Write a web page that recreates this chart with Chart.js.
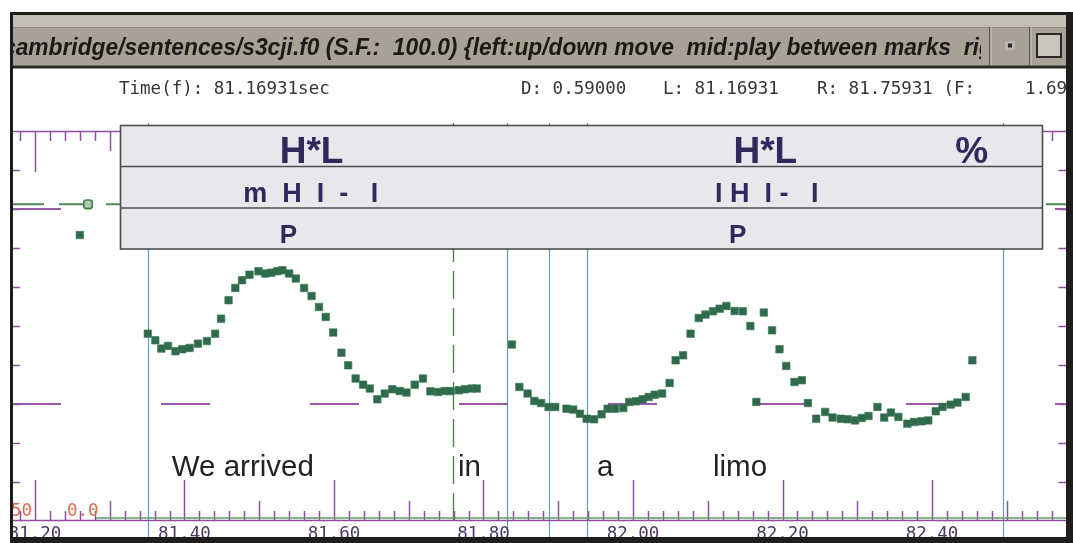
<!DOCTYPE html>
<html>
<head>
<meta charset="utf-8">
<script src="https://cdn.jsdelivr.net/npm/chart.js@4.4.1/dist/chart.umd.min.js"></script>
<style>
  html, body { margin: 0; padding: 0; background: #fff; overflow: hidden; }
  canvas { display: block; }
</style>
</head>
<body>
<canvas id="c" width="1073" height="543"></canvas>
<script>
// ---- s3cji.f0 : pitch track (s) / (Hz) ----
const f0Times = [
  81.260, 81.351, 81.361, 81.369, 81.378, 81.388, 81.397, 81.407, 81.418, 81.430,
  81.441, 81.449, 81.459, 81.468, 81.477, 81.487, 81.499, 81.508, 81.516, 81.524,
  81.531, 81.540, 81.549, 81.560, 81.570, 81.580, 81.589, 81.599, 81.610, 81.619,
  81.629, 81.639, 81.648, 81.658, 81.668, 81.678, 81.688, 81.697, 81.708, 81.719,
  81.729, 81.739, 81.748, 81.756, 81.767, 81.775, 81.784, 81.791, 81.838, 81.848,
  81.859, 81.868, 81.877, 81.887, 81.896, 81.911, 81.920, 81.929, 81.938, 81.948,
  81.958, 81.966, 81.976, 81.987, 81.995, 82.004, 82.013, 82.021, 82.029, 82.039,
  82.049, 82.057, 82.067, 82.077, 82.088, 82.097, 82.107, 82.116, 82.125, 82.136,
  82.147, 82.157, 82.165, 82.175, 82.186, 82.196, 82.205, 82.216, 82.226, 82.234,
  82.245, 82.257, 82.267, 82.278, 82.287, 82.297, 82.306, 82.315, 82.327, 82.336,
  82.345, 82.355, 82.367, 82.376, 82.386, 82.395, 82.405, 82.414, 82.425, 82.434,
  82.445, 82.454
];
const f0Values = [
  233.3, 170.1, 165.8, 160.5, 162.2, 158.8, 160.1, 160.9, 163.7, 165.4,
  170.1, 179.7, 191.5, 199.4, 204.3, 207.9, 210.1, 208.6, 209.2, 210.1,
  210.7, 208.6, 205.4, 199.4, 194.2, 187.2, 180.8, 170.8, 157.9, 149.8,
  141.3, 137.4, 134.9, 128.0, 131.7, 134.4, 133.3, 132.3, 137.4, 141.3,
  133.1, 132.7, 133.3, 133.3, 133.8, 134.4, 134.9, 134.9, 163.1, 135.9,
  131.7, 126.9, 125.6, 123.1, 123.1, 122.0, 121.4, 118.8, 115.6, 115.2,
  118.4, 122.0, 122.0, 122.4, 126.3, 126.7, 128.0, 129.5, 131.0, 131.7,
  138.5, 153.0, 156.2, 170.1, 180.1, 182.3, 184.4, 186.1, 187.8, 184.6,
  184.4, 175.0, 126.3, 183.6, 172.2, 160.1, 149.4, 139.1, 140.2, 125.6,
  115.6, 119.9, 116.3, 115.6, 115.2, 114.5, 116.0, 117.3, 123.1, 116.3,
  119.5, 116.7, 112.4, 113.5, 113.9, 114.5, 120.3, 123.1, 124.6, 125.9,
  129.5, 153.0
];

// probability of voicing trace (bottom strip)
const voicingTimes = [81.282, 82.580];
const voicingProb = [0.0, 0.0];

// view, markers and reference levels
const viewStart = 81.16931;
const viewEnd = 82.57975;
const markLeft = 81.16931;
const markRight = 81.75931;
const refLevels = [125, 250];
const cursorLevel = 253;
const cursorTime = 81.271;
const levelTicks = [75, 100, 125, 150, 175, 200, 225, 250, 275];
const f0Min = 50, f0Max = 300;

// segment boundaries (blue) and label tiers
const boundaryTimes = [81.351, 81.831, 81.887, 81.938, 82.495];
const toneTimes = [81.570, 82.177, 82.453];
const toneLabels = ['H*L', 'H*L', '%'];
const breakTimes = [81.569, 82.179];
const breakLabels = ['m  H  I  -   I', 'I H  I -   I'];
const miscTimes = [81.539, 82.140];
const miscLabels = ['P', 'P'];
const wordTimes = [81.383, 81.766, 81.952, 82.107];
const wordLabels = ['We arrived', 'in', 'a', 'limo'];

// time ruler labels
const tickLabels = ['81.20', '81.40', '81.60', '81.80', '82.00', '82.20', '82.40'];

// window texts
const titleText = 'cambridge/sentences/s3cji.f0 (S.F.:  100.0) {left:up/down move  mid:play between marks  right:menu}';
const titleFitPart = 'cambridge/sentences/s3cji.f0 (S.F.:  100.0) {left:up/down move  mid:play between marks';
const infoTexts = ['Time(f): 81.16931sec', 'D: 0.59000', 'L: 81.16931', 'R: 81.75931 (F:', '1.69'];
const infoX = [119, 521, 663, 817, 1025];

const W = 1073, H = 543;
const MONO = '17.5px "DejaVu Sans Mono", monospace';
const RULER = '#8e4c9e';

function seg(ctx, x1, y1, x2, y2) {
  ctx.beginPath(); ctx.moveTo(x1, y1); ctx.lineTo(x2, y2); ctx.stroke();
}

const panelPlugin = {
  id: 'xwavesPanel',
  beforeDraw(chart) {
    const ctx = chart.ctx;
    ctx.save();
    ctx.fillStyle = '#ffffff';
    ctx.fillRect(0, 0, W, H);
    ctx.restore();
  },
  beforeDatasetsDraw(chart) {
    const { ctx, chartArea: a, scales: { x, y } } = chart;
    ctx.save();
    ctx.beginPath(); ctx.rect(13, 69, 1053, 474); ctx.clip();

    // segment boundaries
    ctx.strokeStyle = '#5a9cd6'; ctx.lineWidth = 1.2;
    boundaryTimes.forEach(t => {
      const px = Math.round(x.getPixelForValue(t)) + 0.5;
      seg(ctx, px, 123, px, H);
    });

    // right marker, dashed
    ctx.strokeStyle = '#4f8449'; ctx.lineWidth = 1.4;
    ctx.setLineDash([28, 9]);
    const rx = Math.round(x.getPixelForValue(markRight)) + 0.5;
    seg(ctx, rx, 123, rx, a.bottom);
    ctx.setLineDash([]);

    // level ticks on both sides
    ctx.strokeStyle = RULER; ctx.lineWidth = 1.5;
    levelTicks.forEach(v => {
      const py = Math.round(y.getPixelForValue(v)) + 0.5;
      seg(ctx, a.left, py, a.left + 8, py);
      seg(ctx, a.right - 8, py, a.right, py);
    });

    // time rulers, top (ticks down) and bottom (ticks up)
    ctx.lineWidth = 1.5;
    seg(ctx, a.left, a.top + 0.5, a.right, a.top + 0.5);
    seg(ctx, a.left, a.bottom - 0.5, a.right, a.bottom - 0.5);
    for (let h = 8118; h <= 8258; h += 2) {
      const px = Math.round(x.getPixelForValue(h / 100)) + 0.5;
      const len = h % 20 === 0 ? 41 : (h % 10 === 0 ? 20 : 10);
      seg(ctx, px, a.top, px, a.top + len);
      seg(ctx, px, a.bottom, px, a.bottom - len);
    }
    ctx.restore();
  },
  afterDatasetsDraw(chart) {
    const { ctx, scales: { x } } = chart;
    ctx.save();

    // label tiers
    const bx = 120, bw = 922, rows = [125, 166.5, 208, 248.5];
    ctx.fillStyle = '#e9e7eb';
    ctx.fillRect(bx, rows[0], bw, rows[3] - rows[0]);
    ctx.strokeStyle = '#4e4c50'; ctx.lineWidth = 1.6;
    ctx.strokeRect(bx + 0.5, rows[0] + 0.5, bw, rows[3] - rows[0]);
    seg(ctx, bx, rows[1], bx + bw, rows[1]);
    seg(ctx, bx, rows[2], bx + bw, rows[2]);

    ctx.fillStyle = '#2e2a5e';
    ctx.textAlign = 'center'; ctx.textBaseline = 'alphabetic';
    ctx.font = 'bold 37px "Liberation Sans", Arial, sans-serif';
    toneTimes.forEach((t, i) => ctx.fillText(toneLabels[i], x.getPixelForValue(t), 163));
    ctx.font = 'bold 27px "Liberation Sans", Arial, sans-serif';
    breakTimes.forEach((t, i) => ctx.fillText(breakLabels[i], x.getPixelForValue(t), 202));
    ctx.font = 'bold 26px "Liberation Sans", Arial, sans-serif';
    miscTimes.forEach((t, i) => ctx.fillText(miscLabels[i], x.getPixelForValue(t), 243));

    // words
    ctx.fillStyle = '#222222';
    ctx.textAlign = 'left';
    ctx.font = '29.5px "Liberation Sans", Arial, sans-serif';
    wordTimes.forEach((t, i) => ctx.fillText(wordLabels[i], x.getPixelForValue(t), 476));
    ctx.restore();
  },
  afterDraw(chart) {
    const { ctx, chartArea: a, scales: { x } } = chart;
    ctx.save();

    // ruler labels and scale minima
    ctx.save();
    ctx.beginPath(); ctx.rect(13, 69, 1053, 468); ctx.clip();
    ctx.font = MONO; ctx.textBaseline = 'top'; ctx.textAlign = 'center';
    ctx.fillStyle = '#4a3864';
    tickLabels.forEach(s => ctx.fillText(s, x.getPixelForValue(Number(s)), a.bottom + 5));
    ctx.textAlign = 'left'; ctx.textBaseline = 'alphabetic';
    ctx.fillStyle = '#dc6c4c';
    ctx.fillText(String(f0Min), 11, 516);
    ctx.fillText('0.0', 67, 516);
    ctx.restore();

    // info line
    ctx.font = MONO; ctx.fillStyle = '#363636'; ctx.textAlign = 'left';
    ctx.save();
    ctx.beginPath(); ctx.rect(13, 69, 1053, 40); ctx.clip();
    infoTexts.forEach((s, i) => ctx.fillText(s, infoX[i], 94));
    ctx.restore();

    // title bar
    ctx.fillStyle = '#c3bfb5'; ctx.fillRect(13, 15, 1053, 12);
    ctx.fillStyle = '#a7a295'; ctx.fillRect(13, 27, 1053, 39);
    ctx.fillStyle = '#8f8a7e'; ctx.fillRect(13, 27, 1053, 1);
    ctx.fillStyle = '#2a2a2a'; ctx.fillRect(13, 65.5, 1053, 3);

    ctx.save();
    ctx.beginPath(); ctx.rect(13, 15, 968, 50); ctx.clip();
    ctx.font = 'italic bold 23px "Liberation Sans", Arial, sans-serif';
    const sx = (951 - 3) / ctx.measureText(titleFitPart).width;
    ctx.translate(3, 55); ctx.scale(sx, 1);
    ctx.fillStyle = '#1c1a17';
    ctx.fillText(titleText, 0, 0);
    ctx.restore();

    // title bar buttons
    ctx.fillStyle = '#5a5650'; ctx.fillRect(989, 27, 1.5, 38);
    ctx.fillStyle = '#d2cec4'; ctx.fillRect(990.5, 27, 1, 38);
    ctx.fillStyle = '#5a5650'; ctx.fillRect(1029, 27, 1.5, 38);
    ctx.fillStyle = '#d2cec4'; ctx.fillRect(1030.5, 27, 1, 38);
    ctx.fillStyle = '#b9b5aa'; ctx.fillRect(1005, 41, 10, 9);
    ctx.fillStyle = '#2a2826'; ctx.fillRect(1008, 43.5, 4, 4);
    ctx.fillStyle = '#c9c5bb'; ctx.fillRect(1036, 33, 26, 25);
    ctx.strokeStyle = '#2a2826'; ctx.lineWidth = 2;
    ctx.strokeRect(1037, 34, 24, 23);

    // window frame
    ctx.fillStyle = '#1e1d1c';
    ctx.fillRect(10, 12, 3, 531);
    ctx.fillRect(10, 12, 1063, 3);
    ctx.fillRect(1066, 12, 7, 531);
    ctx.fillRect(10, 537, 1063, 6);
    ctx.restore();
  }
};

const lineSet = (label, level, color, dash, width) => ({
  label,
  data: [{ x: viewStart, y: level }, { x: viewEnd, y: level }],
  showLine: true, borderColor: color, borderWidth: width, borderDash: dash,
  pointRadius: 0, fill: false
});

new Chart(document.getElementById('c'), {
  type: 'scatter',
  data: {
    datasets: [
      {
        label: 'F0',
        data: f0Times.map((t, i) => ({ x: t, y: f0Values[i] })),
        showLine: false,
        pointStyle: 'rect',
        pointRadius: 5.3,
        pointBackgroundColor: '#2f6b4b',
        pointBorderColor: '#3b7856',
        pointBorderWidth: 0.6
      },
      {
        label: 'cursor',
        data: [{ x: cursorTime, y: cursorLevel }],
        showLine: false,
        pointStyle: 'rectRounded',
        pointRadius: 5,
        pointBackgroundColor: '#a9cdb0',
        pointBorderColor: '#3f7f4e',
        pointBorderWidth: 1.6
      },
      lineSet('cursor level', cursorLevel, '#4e8a50', [32, 15], 2),
      lineSet('ref ' + refLevels[1], refLevels[1], '#9a58a9', [49, 100], 2),
      lineSet('ref ' + refLevels[0], refLevels[0], '#9a58a9', [49, 100], 2),
      {
        label: 'voicing',
        yAxisID: 'yv',
        data: voicingTimes.map((t, i) => ({ x: t, y: voicingProb[i] })),
        showLine: true, borderColor: '#5f9d62', borderWidth: 1.5, pointRadius: 0
      }
    ]
  },
  options: {
    responsive: false,
    animation: false,
    devicePixelRatio: 1,
    events: [],
    layout: { padding: { left: 12, right: 6, top: 131, bottom: 22 } },
    elements: { line: { tension: 0 } },
    scales: {
      x: { type: 'linear', min: viewStart, max: viewEnd, display: false },
      y: { type: 'linear', min: f0Min, max: f0Max, display: false },
      yv: { type: 'linear', min: -0.008, max: 1, display: false }
    },
    plugins: { legend: { display: false }, tooltip: { enabled: false } }
  },
  plugins: [panelPlugin]
});
</script>
</body>
</html>
